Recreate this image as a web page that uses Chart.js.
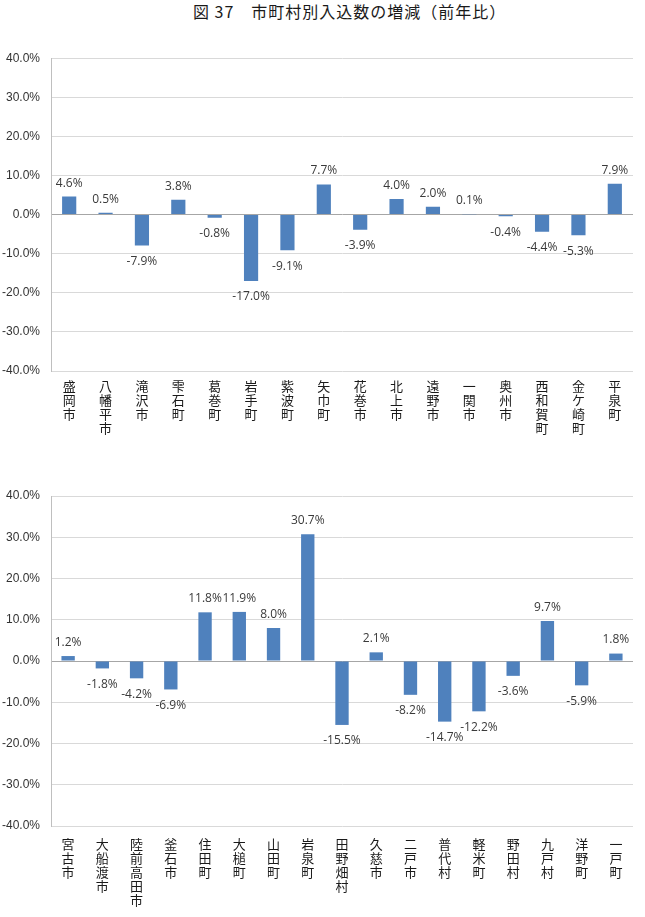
<!DOCTYPE html>
<html>
<head>
<meta charset="utf-8">
<script src="https://cdn.jsdelivr.net/npm/chart.js@4.4.1/dist/chart.umd.min.js"></script>
<style>
  html, body { margin: 0; padding: 0; background: #fff; }
  body { width: 645px; height: 917px; position: relative; overflow: hidden; }
  #title { position: absolute; left: 193px; top: -1px; line-height: 24px; font-family: "Noto Sans CJK JP", sans-serif; font-size: 16px; font-weight: 400; letter-spacing: 1px; color: #1a1a1a; white-space: nowrap; }
  .wrap { position: absolute; left: 0; width: 645px; }
  #w1 { top: 40px; height: 415px; }
  #w2 { top: 470px; height: 447px; }
</style>
</head>
<body>
<div id="title">図 37　市町村別入込数の増減（前年比）</div>
<div class="wrap" id="w1"><canvas id="c1"></canvas></div>
<div class="wrap" id="w2"><canvas id="c2"></canvas></div>
<script>
// ---- data ----
const categoriesTop = ['盛岡市','八幡平市','滝沢市','雫石町','葛巻町','岩手町','紫波町','矢巾町','花巻市','北上市','遠野市','一関市','奥州市','西和賀町','金ケ崎町','平泉町'];
const valuesTop = [4.6, 0.5, -7.9, 3.8, -0.8, -17.0, -9.1, 7.7, -3.9, 4.0, 2.0, 0.1, -0.4, -4.4, -5.3, 7.9];

const categoriesBottom = ['宮古市','大船渡市','陸前高田市','釜石市','住田町','大槌町','山田町','岩泉町','田野畑村','久慈市','二戸市','普代村','軽米町','野田村','九戸村','洋野町','一戸町'];
const valuesBottom = [1.2, -1.8, -4.2, -6.9, 11.8, 11.9, 8.0, 30.7, -15.5, 2.1, -8.2, -14.7, -12.2, -3.6, 9.7, -5.9, 1.8];

const yTicks = [-40, -30, -20, -10, 0, 10, 20, 30, 40];

// ---- helpers ----
const verticalLabel = s => Array.from(s);

const dataLabelPlugin = {
  id: 'dataLabels',
  afterDatasetsDraw(chart) {
    const ctx = chart.ctx;
    const meta = chart.getDatasetMeta(0);
    const vals = chart.data.datasets[0].data;
    ctx.save();
    ctx.font = '12px "Open Sans", sans-serif';
    ctx.fillStyle = '#3a3a3a';
    ctx.textAlign = 'center';
    ctx.textBaseline = 'middle';
    meta.data.forEach((bar, i) => {
      const v = vals[i];
      const txt = v.toFixed(1) + '%';
      const y = v >= 0 ? bar.y - 13.5 : bar.y + 16;
      ctx.fillText(txt, bar.x, y);
    });
    ctx.restore();
  }
};

function makeChart(id, cats, vals, padTop, xHeight, xPad) {
  return new Chart(document.getElementById(id), {
    type: 'bar',
    data: {
      labels: cats.map(verticalLabel),
      datasets: [{
        data: vals,
        backgroundColor: '#4f81bd',
        borderWidth: 0,
        barPercentage: 0.39,
        categoryPercentage: 1.0
      }]
    },
    options: {
      responsive: true,
      maintainAspectRatio: false,
      animation: false,
      events: [],
      layout: { padding: { top: padTop, right: 12, left: 0, bottom: 0 } },
      plugins: { legend: { display: false }, tooltip: { enabled: false }, title: { display: false } },
      scales: {
        x: {
          grid: { display: false, drawTicks: false },
          border: { display: false },
          ticks: {
            maxRotation: 0, minRotation: 0, autoSkip: false,
            padding: xPad,
            color: '#1a1a1a',
            font: { family: '"Noto Sans CJK JP", sans-serif', size: 13, lineHeight: '14px' }
          },
          afterFit(scale) { scale.height = xHeight; }
        },
        y: {
          min: -40, max: 40,
          afterBuildTicks(scale) { scale.ticks = yTicks.map(v => ({ value: v })); },
          grid: {
            drawTicks: false,
            color: c => (c.tick && c.tick.value === 0) ? '#a6a6a6' : '#d9d9d9',
            lineWidth: 1
          },
          border: { display: true, color: '#bfbfbf', width: 1 },
          ticks: {
            padding: 11,
            color: '#333',
            font: { family: '"Liberation Sans", Arial, sans-serif', size: 12 },
            callback: v => Number(v).toFixed(1) + '%'
          },
          afterFit(scale) { scale.width = 51; }
        }
      }
    },
    plugins: [dataLabelPlugin]
  });
}

makeChart('c1', categoriesTop, valuesTop, 14, 84, 8);
makeChart('c2', categoriesBottom, valuesBottom, 26, 91, 11);
</script>
</body>
</html>
